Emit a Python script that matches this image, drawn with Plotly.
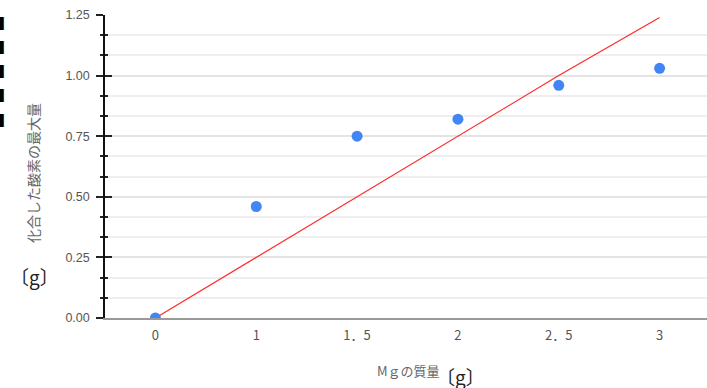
import plotly.graph_objects as go

categories = ["0", "1", "1．5", "2", "2．5", "3"]
oxygen_max = [0, 0.46, 0.75, 0.82, 0.96, 1.03]
line_values = [0, 0.25, 0.5, 0.75, 1.0, 1.24]
y_ticks = [0, 0.25, 0.5, 0.75, 1.0, 1.25]
y_ticktext = ["0.00", "0.25", "0.50", "0.75", "1.00", "1.25"]

W, H = 707, 388
L, R, T, B = 105, 0, 15, 70
pw, ph = W - L - R, H - T - B

def px(x):
    return (x - L) / pw

def py(y):
    return (H - B - y) / ph

fig = go.Figure()
fig.add_trace(go.Scatter(x=categories, y=line_values, mode="lines",
                         line=dict(color="#ff2a2a", width=1.2), hoverinfo="skip",
                         showlegend=False))
fig.add_trace(go.Scatter(x=categories, y=oxygen_max, mode="markers",
                         marker=dict(color="#4285f4", size=11), showlegend=False))
fig.add_trace(go.Scatter(x=categories, y=oxygen_max, yaxis="y2", mode="markers",
                         marker=dict(opacity=0), hoverinfo="skip", showlegend=False))

font_cjk = "Noto Sans CJK JP, Noto Sans, sans-serif"

fig.update_layout(
    width=W, height=H,
    margin=dict(l=L, r=R, t=T, b=B, pad=0, autoexpand=False),
    plot_bgcolor="white", paper_bgcolor="white",
    font=dict(family=font_cjk, color="#555"),
    xaxis=dict(type="category", range=[-0.5, 5.47], showgrid=False, automargin=False,
               ticks="", showline=True, linecolor="#999", linewidth=1.5,
               tickfont=dict(size=13, color="#555", family=font_cjk),
               ticklabelstandoff=5, zeroline=False),
    yaxis=dict(range=[0, 1.25], tickvals=y_ticks, ticktext=y_ticktext, automargin=False,
               ticks="outside", ticklen=7, tickcolor="#222", tickwidth=1.5,
               showline=True, linecolor="#111", linewidth=1.5,
               gridcolor="#e4e4e4", gridwidth=1.5, zeroline=False,
               tickfont=dict(size=12.5, color="#555", family="Liberation Sans, Arial"),
               ticklabelstandoff=4,
               minor=dict(dtick=0.25/3, tick0=0, ticks="outside", ticklen=3,
                          tickcolor="#222", tickwidth=1.5, showgrid=True,
                          gridcolor="#eeeeee", gridwidth=1.5)),
    yaxis2=dict(range=[0, 1.25], overlaying="y", side="left", anchor="x", automargin=False,
                tickvals=y_ticks, ticktext=[""] * len(y_ticks),
                ticks="inside", ticklen=7, tickcolor="#222", tickwidth=1.5,
                showgrid=False, zeroline=False, showline=False,
                minor=dict(dtick=0.25/3, tick0=0, ticks="inside", ticklen=3,
                           tickcolor="#222", tickwidth=1.5, showgrid=False)),
)

def note(text, x, y, size, color, family=font_cjk, angle=0, xanchor="center"):
    return dict(text=text, x=px(x), y=py(y), xref="paper", yref="paper",
                xanchor=xanchor, yanchor="middle", textangle=angle,
                showarrow=False, borderpad=0,
                font=dict(size=size, color=color, family=family))

ann = [
    note("化合した酸素の最大量", 33, 173, 14, "#666", angle=-90),
    note("〔g〕", 34, 276, 19, "#222"),
    note("Mｇの質量", 408, 370, 13, "#666"),
    note("〔g〕", 460, 376, 19, "#222"),
]
for yc in [22, 46, 70, 94, 119]:
    ann.append(note("■", 6, yc, 17, "#000", family="DejaVu Sans", xanchor="right"))
fig.update_layout(annotations=ann)

fig.write_html("out.html", config={"displayModeBar": False},
               post_script="document.body.style.margin='0';document.body.style.padding='0';")
